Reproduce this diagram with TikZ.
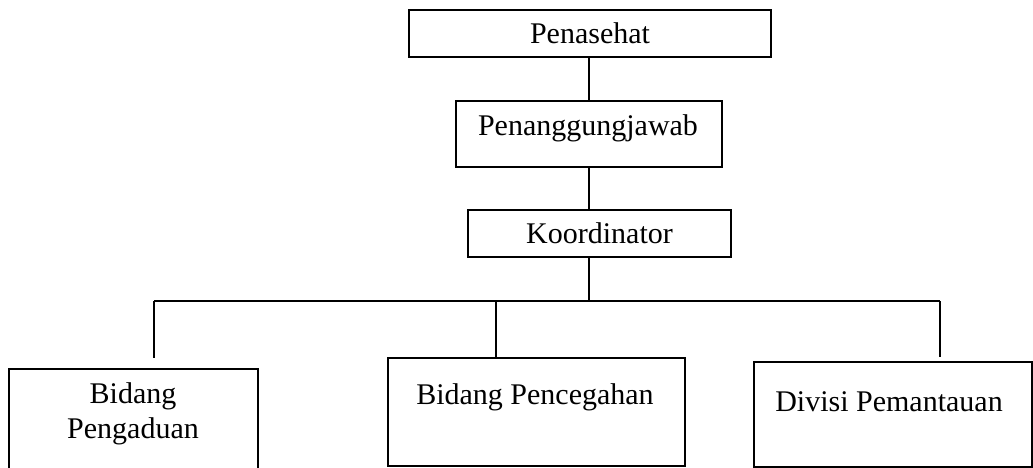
\documentclass[tikz,border=0pt]{standalone}
\usepackage{fontspec}
\setmainfont{Liberation Serif}
\usepackage{tikz}
\usetikzlibrary{positioning}

\begin{document}
\begin{tikzpicture}[
  x=1pt, y=-1pt,
  box/.style={draw, line width=1.5pt, rectangle, inner sep=0pt},
  txt/.style={font=\fontsize{30}{35}\selectfont, align=center, inner sep=0pt},
  conn/.style={line width=1.5pt},
]
  \useasboundingbox (0,0) rectangle (1033,468);

  \node[box, txt, minimum width=362, minimum height=47] (penasehat) at (590,33.5) {Penasehat};
  \node[box, minimum width=266, minimum height=66] (penanggung) at (589,134) {};
  \node[txt] (penanggungtxt) at (588,128) {Penanggungjawab};
  \node[box, txt, minimum width=263, minimum height=47] (koordinator) at (599.5,233.5) {Koordinator};

  \node[box, minimum width=249, minimum height=105] (pengaduan) at (133.5,421.5) {};
  \node[txt] (pengaduantxt) at (133,414) {Bidang\\Pengaduan};
  \node[box, minimum width=297, minimum height=108] (pencegahan) at (536.5,412) {};
  \node[txt] (pencegahantxt) at (535,397) {Bidang Pencegahan};
  \node[box, minimum width=278, minimum height=105] (pemantauan) at (893,414.5) {};
  \node[txt] (pemantauantxt) at (889,402) {Divisi Pemantauan};

  % garis penghubung
  \coordinate (hub) at (589,301);
  \coordinate (busL) at (154,301);
  \coordinate (busM) at (496,301);
  \coordinate (busR) at (940,301);

  \draw[conn] (penasehat.south -| penanggung.north) -- (penanggung.north);
  \draw[conn] (penanggung.south) -- (penanggung.south |- koordinator.north);
  \draw[conn] (penanggung.south |- koordinator.south) -- (hub);
  \draw[conn] (busL) -- (busR);
  \draw[conn] (busL) -- ++(0,57);
  \draw[conn] (busM) -- (busM |- pencegahan.north);
  \draw[conn] (busR) -- ++(0,56);
\end{tikzpicture}
\end{document}
